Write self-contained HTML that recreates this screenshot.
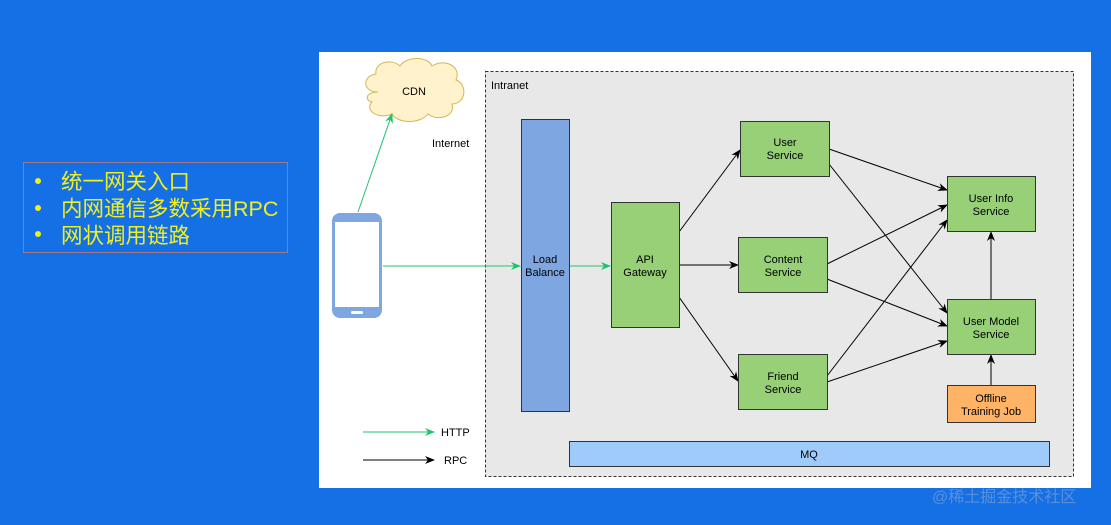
<!DOCTYPE html>
<html><head><meta charset="utf-8"><style>
html,body{margin:0;padding:0;width:1111px;height:525px;overflow:hidden;background:#1570e6;}
svg{display:block}
text{font-family:"Liberation Sans",Arial,sans-serif;}
</style></head><body>
<svg width="1111" height="525" viewBox="0 0 1111 525" xmlns="http://www.w3.org/2000/svg">
<defs>
<marker id="ab" markerWidth="10" markerHeight="10" refX="9" refY="5" orient="auto" markerUnits="userSpaceOnUse"><path d="M0,1 L10,5 L0,9 L3,5 z" fill="#000"/></marker>
<marker id="ag" markerWidth="10" markerHeight="10" refX="9" refY="5" orient="auto" markerUnits="userSpaceOnUse"><path d="M0,1 L10,5 L0,9 L3,5 z" fill="#1fc46e"/></marker>
</defs>
<rect x="0" y="0" width="1111" height="525" fill="#1570e6"/>
<rect x="23.5" y="162.5" width="264" height="90" fill="#1570e6" stroke="#a07888" stroke-width="1"/>
<g fill="#f0f020" font-size="21.5">
<circle cx="38" cy="181" r="3" fill="#f0f020"/>
<circle cx="38" cy="208" r="3" fill="#f0f020"/>
<circle cx="38" cy="234" r="3" fill="#f0f020"/>
<text x="61" y="189" style="font-family:'Liberation Sans','Noto Sans CJK SC',sans-serif">统一网关入口</text>
<text x="61" y="216" style="font-family:'Liberation Sans','Noto Sans CJK SC',sans-serif">内网通信多数采用RPC</text>
<text x="61" y="243" style="font-family:'Liberation Sans','Noto Sans CJK SC',sans-serif">网状调用链路</text>
</g>
<rect x="319" y="52" width="772" height="436" fill="#fff"/>
<rect x="485.5" y="71.5" width="588" height="405" fill="#e8e8e8" stroke="#333" stroke-dasharray="3,2"/>
<text x="491" y="89" font-size="11" fill="#000">Intranet</text>
<text x="432" y="147" font-size="11" fill="#000">Internet</text>
<path d="M378,92 C362,92 362,76 376,74 C374,62 392,58 400,66 C406,56 428,56 432,66 C444,58 462,66 456,80 C468,84 466,104 452,104 C456,116 438,122 428,114 C420,124 398,124 392,114 C378,120 364,110 372,102 C364,100 366,92 378,92 z" fill="#fff2cc" stroke="#d6b656" stroke-width="1"/>
<text x="414" y="95" font-size="11" text-anchor="middle">CDN</text>
<rect x="332" y="213" width="50" height="105" rx="8" fill="#7ea6e0"/>
<rect x="335" y="222" width="44" height="85" fill="#fff"/>
<rect x="351" y="311" width="12" height="3" rx="1.5" fill="#fff"/>
<line x1="358" y1="212" x2="392" y2="114" stroke="#1fc46e" stroke-width="1" marker-end="url(#ag)"/>
<line x1="383" y1="266" x2="520" y2="266" stroke="#1fc46e" stroke-width="1" marker-end="url(#ag)"/>
<line x1="569" y1="266" x2="610" y2="266" stroke="#1fc46e" stroke-width="1" marker-end="url(#ag)"/>
<g stroke="#000" stroke-width="1" fill="none">
<line x1="679" y1="232" x2="740" y2="150" marker-end="url(#ab)"/>
<line x1="679" y1="265" x2="738" y2="265" marker-end="url(#ab)"/>
<line x1="679" y1="297" x2="738" y2="381" marker-end="url(#ab)"/>
<line x1="829" y1="149" x2="947" y2="190" marker-end="url(#ab)"/>
<line x1="829" y1="164" x2="947" y2="313" marker-end="url(#ab)"/>
<line x1="827" y1="264" x2="947" y2="205" marker-end="url(#ab)"/>
<line x1="827" y1="279" x2="947" y2="326" marker-end="url(#ab)"/>
<line x1="827" y1="376" x2="947" y2="220" marker-end="url(#ab)"/>
<line x1="827" y1="382" x2="947" y2="341" marker-end="url(#ab)"/>
<line x1="991" y1="299" x2="991" y2="232" marker-end="url(#ab)"/>
<line x1="991" y1="385" x2="991" y2="355" marker-end="url(#ab)"/>
</g>
<g stroke="#333" stroke-width="1">
<rect x="521.5" y="119.5" width="48" height="292" fill="#7ea6e0"/>
<rect x="611.5" y="202.5" width="68" height="125" fill="#97d077"/>
<rect x="740.5" y="121.5" width="89" height="55" fill="#97d077"/>
<rect x="738.5" y="237.5" width="89" height="55" fill="#97d077"/>
<rect x="738.5" y="354.5" width="89" height="55" fill="#97d077"/>
<rect x="947.5" y="176.5" width="88" height="55" fill="#97d077"/>
<rect x="947.5" y="299.5" width="88" height="55" fill="#97d077"/>
<rect x="947.5" y="385.5" width="88" height="37" fill="#ffb366"/>
<rect x="569.5" y="441.5" width="480" height="25" fill="#9fcbfa"/>
</g>
<g font-size="11" text-anchor="middle" fill="#000">
<text x="545" y="263">Load</text><text x="545" y="276">Balance</text>
<text x="645" y="263">API</text><text x="645" y="276">Gateway</text>
<text x="785" y="146">User</text><text x="785" y="159">Service</text>
<text x="783" y="263">Content</text><text x="783" y="276">Service</text>
<text x="783" y="380">Friend</text><text x="783" y="393">Service</text>
<text x="991" y="202">User Info</text><text x="991" y="215">Service</text>
<text x="991" y="325">User Model</text><text x="991" y="338">Service</text>
<text x="991" y="402">Offline</text><text x="991" y="415">Training Job</text>
<text x="809" y="458">MQ</text>
</g>
<line x1="363" y1="432" x2="434" y2="432" stroke="#1fc46e" stroke-width="1" marker-end="url(#ag)"/>
<text x="441" y="436" font-size="11">HTTP</text>
<line x1="363" y1="460" x2="434" y2="460" stroke="#000" stroke-width="1" marker-end="url(#ab)"/>
<text x="444" y="464" font-size="11">RPC</text>
<text x="932" y="502" font-size="16" fill="#5a8fd8" style="font-family:'Liberation Sans','Noto Sans CJK SC',sans-serif">@稀土掘金技术社区</text>
</svg>
</body></html>
